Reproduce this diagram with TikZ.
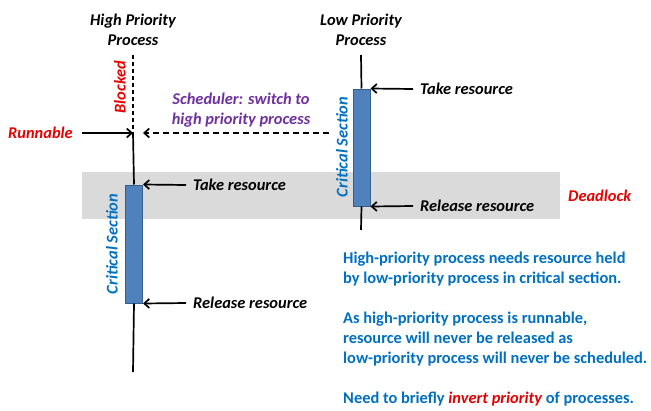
\documentclass[tikz,border=0pt]{standalone}
\usepackage{fontspec}
\setmainfont{Carlito}
\usetikzlibrary{arrows.meta}
\definecolor{myred}{RGB}{230,0,0}
\definecolor{mypurple}{RGB}{112,48,160}
\definecolor{myblue}{RGB}{0,112,192}
\definecolor{boxfill}{RGB}{79,129,189}
\definecolor{boxdraw}{RGB}{56,93,138}
\definecolor{band}{RGB}{218,218,218}
\tikzset{
  lbl/.style={font=\fontsize{16.4}{20}\selectfont\bfseries\itshape, inner sep=0pt},
  para/.style={font=\fontsize{16.4}{20}\selectfont\bfseries, text=myblue, align=left, inner sep=0pt, anchor=west},
  timeline/.style={line width=1.7pt},
  cs/.style={draw=boxdraw, fill=boxfill, line width=1pt},
  arr/.style={line width=1.7pt, -{Straight Barb[length=5pt,width=9pt]}},
}
\begin{document}
\begin{tikzpicture}[x=1pt,y=-1pt]
\useasboundingbox (0,0) rectangle (651,410);
\fill[white] (0,0) rectangle (651,410);
% gray band
\fill[band] (82,172) rectangle (560,219);

% high priority process
\node[lbl, align=center] (hpt) at (133,30) {High Priority\\Process};
\coordinate (htop) at (133,55);
\coordinate (hrun) at (133,133);
\coordinate (hbot) at (133,372);
\draw[timeline, dashed, dash pattern=on 4pt off 3pt] (htop) -- (hrun);
\node[cs, minimum width=17pt, minimum height=118pt, inner sep=0pt] (hcs) at (134,244) {};
\draw[timeline] (hrun) -- (hcs.north);
\draw[timeline] (hcs.south) -- (hbot);
\node[lbl, text=myred, rotate=90] (blk) at (120,87) {Blocked};
\node[lbl, text=myblue, rotate=90] (hcsl) at (112,244) {Critical Section};

% runnable
\node[lbl, text=myred, anchor=east] (run) at (73,133) {Runnable};
\coordinate (runs) at (82,133);
\draw[arr] (runs) -- (hrun);

% low priority process
\node[lbl, align=center] (lpt) at (361,30) {Low Priority\\Process};
\coordinate (ltop) at (361,55);
\coordinate (lbot) at (361,230);
\node[cs, minimum width=17pt, minimum height=117pt, inner sep=0pt] (lcs) at (361.5,147.5) {};
\draw[timeline] (ltop) -- (lcs.north);
\draw[timeline] (lcs.south) -- (lbot);
\node[lbl, text=myblue, rotate=90] (lcsl) at (342,147) {Critical Section};

% scheduler
\node[lbl, text=mypurple, align=center] (sch) at (241,110) {Scheduler: switch to\\high priority process};
\coordinate (dstart) at (329,133);
\coordinate (dend) at (143,133);
\draw[arr, dashed, dash pattern=on 6pt off 4pt] (dstart) -- (dend);

% labels with arrows
\node[lbl, anchor=west] (lt) at (420,89) {Take resource};
\node[lbl, anchor=west] (lr) at (420,206) {Release resource};
\node[lbl, anchor=west] (ht) at (193,185) {Take resource};
\node[lbl, anchor=west] (hr) at (193,303) {Release resource};
\draw[arr] ([xshift=-7pt]lt.west) -- (lcs.north east);
\draw[arr] ([xshift=-7pt]lr.west) -- (lcs.south east);
\draw[arr] ([xshift=-7pt]ht.west) -- (hcs.north east);
\draw[arr] ([xshift=-7pt]hr.west) -- (hcs.south east);

\node[lbl, text=myred, anchor=west] (dl) at (568,196) {Deadlock};

% explanation
\node[para] (p1) at (343,269) {High-priority process needs resource held\\by low-priority process in critical section.};
\node[para] (p2) at (343,339) {As high-priority process is runnable,\\resource will never be released as\\low-priority process will never be scheduled.};
\node[para] (p3) at (343,399) {Need to briefly {\color{myred}\itshape invert priority} of processes.};
\end{tikzpicture}
\end{document}
